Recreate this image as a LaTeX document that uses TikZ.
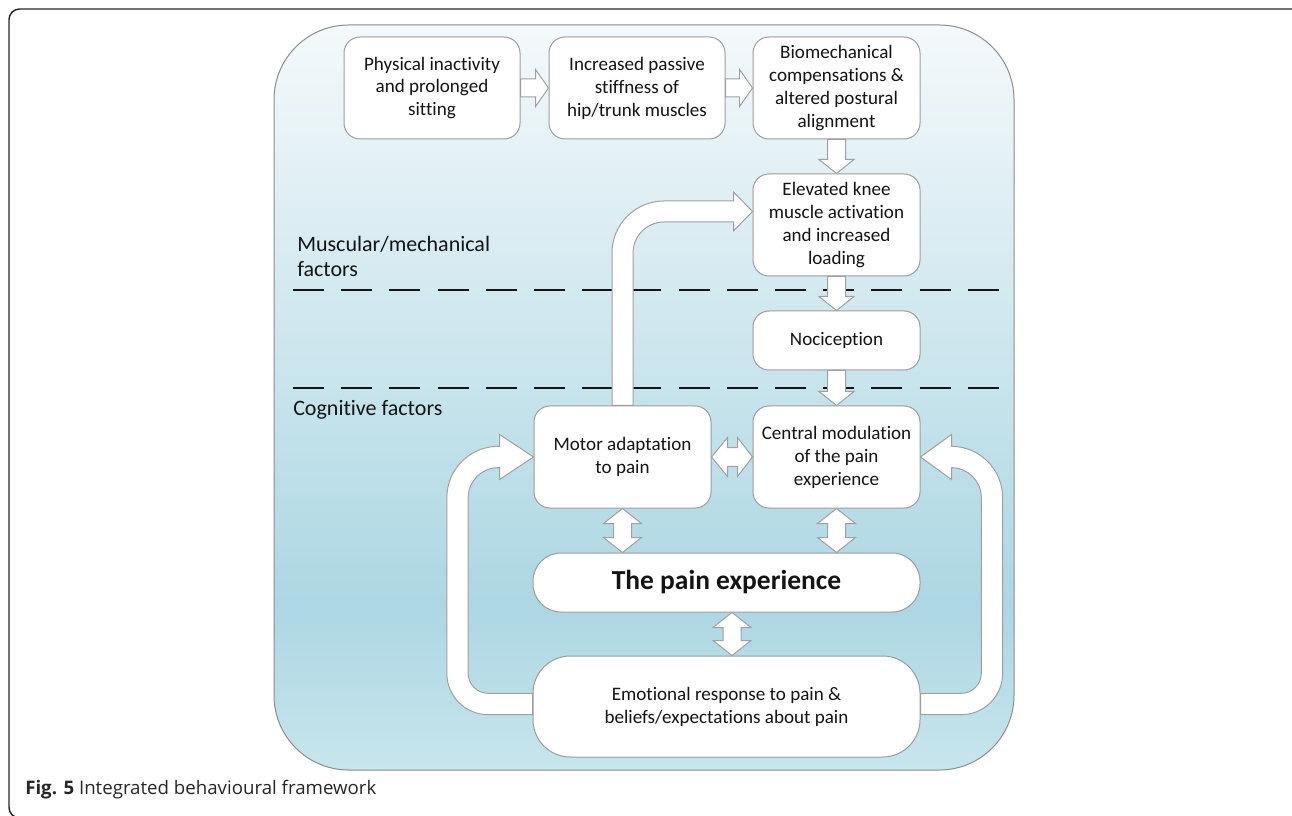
\documentclass[tikz,border=0pt]{standalone}
\usepackage{fontspec}
\setmainfont{Carlito}[RawFeature={-liga;-clig;-dlig;-calt}]
\newfontfamily\capfont{Open Sans}
\usetikzlibrary{calc}
\definecolor{pb0}{HTML}{C8E5ED}
\definecolor{pb1}{HTML}{ACD7E3}
\definecolor{pb2}{HTML}{D3E9F0}
\definecolor{pb3}{HTML}{F4F9FB}
\definecolor{boxgray}{HTML}{9C9C9C}
\definecolor{arrgray}{HTML}{A0A0A0}
\definecolor{txt}{HTML}{141414}
\pgfdeclareverticalshading{panelshade}{100bp}{color(0bp)=(pb0); color(25bp)=(pb0); color(36bp)=(pb1); color(57bp)=(pb2); color(75bp)=(pb3); color(100bp)=(pb3)}
\tikzset{
  box/.style={draw=boxgray, fill=white, line width=0.75pt, rounded corners=12pt, align=center, inner sep=2pt, font=\fontsize{14.3}{17.2}\selectfont, text=txt},
  barrow/.style={draw=arrgray, fill=white, line width=0.75pt, line join=miter},
  sidelabel/.style={anchor=west, align=left, inner sep=0pt, font=\fontsize{16.5}{18.75}\selectfont, text=txt},
  divider/.style={line width=2pt, draw=txt, dash pattern=on 23.25pt off 12.9pt},
}
% horizontal block arrow, A left -> B right
\newcommand\HArr[2]{\path[barrow] let \p1=(#1), \p2=(#2) in (\x1,\y1+6.75pt) -- (\x2-9.75pt,\y1+6.75pt) -- (\x2-9.75pt,\y1+13.9pt) -- (\x2,\y1) -- (\x2-9.75pt,\y1-13.9pt) -- (\x2-9.75pt,\y1-6.75pt) -- (\x1,\y1-6.75pt) -- cycle;}
% vertical block arrow, A above -> B below
\newcommand\VArr[2]{\path[barrow] let \p1=(#1), \p2=(#2) in (\x1-6.75pt,\y1) -- (\x1-6.75pt,\y2+10.5pt) -- (\x1-13.1pt,\y2+10.5pt) -- (\x1,\y2) -- (\x1+13.1pt,\y2+10.5pt) -- (\x1+6.75pt,\y2+10.5pt) -- (\x1+6.75pt,\y1) -- cycle;}
% vertical double block arrow
\newcommand\VDArr[2]{\path[barrow] let \p1=(#1), \p2=(#2) in (\x1,\y1) -- (\x1+14.25pt,\y1-11.25pt) -- (\x1+6.75pt,\y1-11.25pt) -- (\x1+6.75pt,\y2+11.25pt) -- (\x1+14.25pt,\y2+11.25pt) -- (\x1,\y2) -- (\x1-14.25pt,\y2+11.25pt) -- (\x1-6.75pt,\y2+11.25pt) -- (\x1-6.75pt,\y1-11.25pt) -- (\x1-14.25pt,\y1-11.25pt) -- cycle;}
% horizontal double block arrow
\newcommand\HDArr[2]{\path[barrow] let \p1=(#1), \p2=(#2) in (\x1,\y1) -- (\x1+12pt,\y1+14.6pt) -- (\x1+12pt,\y1+7.1pt) -- (\x2-11.25pt,\y1+7.1pt) -- (\x2-11.25pt,\y1+14.6pt) -- (\x2,\y1) -- (\x2-11.25pt,\y1-14.6pt) -- (\x2-11.25pt,\y1-7.1pt) -- (\x1+12pt,\y1-7.1pt) -- (\x1+12pt,\y1-14.6pt) -- cycle;}

\begin{document}
\begin{tikzpicture}[x=0.75pt, y=-0.75pt]
\useasboundingbox (0,0) rectangle (1292,816);
% outer frame (partly outside the picture)
\draw[line width=1.1pt, draw=black!85, rounded corners=8pt] (9,9) rectangle (1306,818);
% panel
\path[shading=panelshade, draw=black!45, line width=0.75pt, rounded corners=56pt] (274,25) rectangle (1014,770);

% nodes
\node[box, minimum width=132pt, minimum height=76.5pt] (n1) at (432,88) {Physical inactivity\\and prolonged\\sitting};
\node[box, minimum width=132pt, minimum height=76.5pt] (n2) at (637,88) {Increased passive\\stiffness of\\hip/trunk muscles};
\node[box, minimum width=125.25pt, minimum height=76.5pt] (n3) at (836.5,88) {Biomechanical\\compensations \&\\altered postural\\alignment};
\node[box, minimum width=125.25pt, minimum height=76.5pt] (n4) at (836.5,225) {Elevated knee\\muscle activation\\and increased\\loading};
\node[box, minimum width=125.25pt, minimum height=44.25pt] (n5) at (836.5,340.5) {Nociception};
\node[box, minimum width=125.25pt, minimum height=76.5pt] (n6) at (836.5,457) {Central modulation\\of the pain\\experience};
\node[box, minimum width=132.75pt, minimum height=76.5pt] (n7) at (622.5,457) {Motor adaptation\\to pain};
\node[box, minimum width=290.25pt, minimum height=44.25pt, rounded corners=21pt, font=\fontsize{20.6}{24}\selectfont\bfseries] (n8) at (726.5,582.5) {The pain experience};
\node[box, minimum width=290.25pt, minimum height=75.75pt, rounded corners=28pt] (n9) at (726.5,706.5) {Emotional response to pain \&\\beliefs/expectations about pain};

% side labels
\node[sidelabel] (lmus) at (297,256.5) {Muscular/mechanical\\factors};
\node[sidelabel] (lcog) at (293,410) {Cognitive factors};

% dividers
\draw[divider] (293,290) -- (1000,290);
\draw[divider] (293,388) -- (1000,388);

% straight arrows
\HArr{n1.east}{n2.west}
\HArr{n2.east}{n3.west}
\VArr{n3.south}{n4.north}
\VArr{n4.south}{n5.north}
\VArr{n5.south}{n6.north}
\HDArr{n7.east}{n6.west}
\VDArr{n7.south}{n8.north -| n7.south}
\VDArr{n6.south}{n8.north -| n6.south}
\VDArr{$(n8.south)+(5.5,0)$}{$(n9.north)+(5.5,0)$}

% curved arrow: motor adaptation -> elevated knee
\path[barrow] let \p1=(n7.north), \p2=($(n4.west)+(0,-13.5)$) in
  (\x1-7.875pt,\y1) -- (\x1-7.875pt,\y2-31.125pt)
  arc[start angle=180, end angle=90, radius=39pt]
  -- (\x2-14.25pt,\y2+7.875pt) -- (\x2-14.25pt,\y2+14.6pt) -- (\x2,\y2) -- (\x2-14.25pt,\y2-14.6pt) -- (\x2-14.25pt,\y2-7.875pt)
  -- (\x1+31.125pt,\y2-7.875pt)
  arc[start angle=90, end angle=180, radius=23.25pt]
  -- (\x1+7.875pt,\y1) -- cycle;

% left loop: emotional -> motor adaptation
\path[barrow] let \p1=($(n9.west)+(0,-2.5)$), \p2=(n7.west) in
  (\x1,\y1+8pt) -- (\x1-56.25pt+8pt+15pt,\y1+8pt)
  arc[start angle=270, end angle=180, radius=15pt]
  -- (\x1-56.25pt+8pt,\y2-8pt-22.5pt)
  arc[start angle=180, end angle=90, radius=22.5pt]
  -- (\x2-25.5pt,\y2-8pt) -- (\x2-25.5pt,\y2-16.9pt) -- (\x2,\y2) -- (\x2-25.5pt,\y2+16.9pt) -- (\x2-25.5pt,\y2+8pt)
  -- (\x1-56.25pt+8pt+22.5pt,\y2+8pt)
  arc[start angle=90, end angle=180, radius=38.5pt]
  -- (\x1-56.25pt-8pt,\y1+8pt+15pt)
  arc[start angle=180, end angle=270, radius=31pt]
  -- (\x1,\y1-8pt) -- cycle;

% right loop: emotional -> central modulation
\path[barrow] let \p1=($(n9.east)+(0,-2.5)$), \p2=(n6.east) in
  (\x1,\y1+8pt) -- (\x1+53.6pt-8pt-15pt,\y1+8pt)
  arc[start angle=270, end angle=360, radius=15pt]
  -- (\x1+53.6pt-8pt,\y2-8pt-22.5pt)
  arc[start angle=0, end angle=90, radius=22.5pt]
  -- (\x2+23.25pt,\y2-8pt) -- (\x2+23.25pt,\y2-16.9pt) -- (\x2,\y2) -- (\x2+23.25pt,\y2+16.9pt) -- (\x2+23.25pt,\y2+8pt)
  -- (\x1+53.6pt-8pt-22.5pt,\y2+8pt)
  arc[start angle=90, end angle=0, radius=38.5pt]
  -- (\x1+53.6pt+8pt,\y1+8pt+15pt)
  arc[start angle=0, end angle=-90, radius=31pt]
  -- (\x1,\y1-8pt) -- cycle;

% caption
\node[anchor=west, inner sep=0pt, font=\capfont\fontsize{14}{16}\selectfont, text=black!85] (cap) at (25,790) {\textbf{Fig. 5} Integrated behavioural framework};
\end{tikzpicture}
\end{document}
